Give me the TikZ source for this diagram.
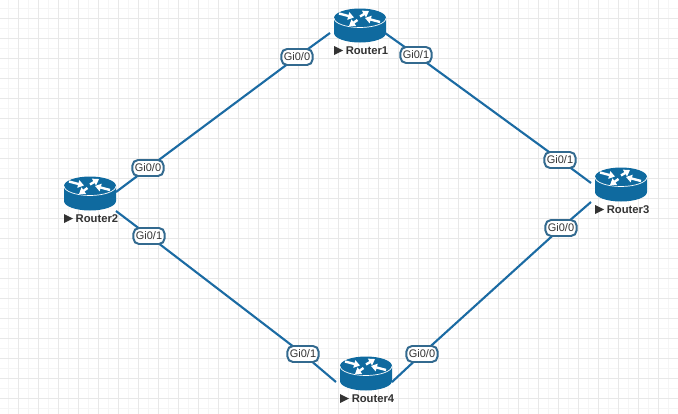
\documentclass[tikz,border=0pt]{standalone}
\usepackage{fontspec}
\setmainfont{Liberation Sans}
\usepackage{xcolor}
\usetikzlibrary{arrows.meta, positioning}
\definecolor{routerblue}{HTML}{0F6A9F}
\definecolor{linkblue}{HTML}{1B6BA3}
\definecolor{portedge}{HTML}{336A8F}
\definecolor{labeltext}{HTML}{333333}

\begin{document}
\begin{tikzpicture}[
    x=0.025cm, y=-0.025cm,
    router/.style={inner sep=0pt, minimum width=1.3cm, minimum height=0.85cm},
    routername/.style={font=\fontsize{8}{9}\selectfont\bfseries, text=labeltext, inner sep=0pt},
    port/.style={draw=portedge, line width=1.4pt, fill=white, rounded corners=4pt, minimum width=0.78cm, minimum height=0.4cm, inner sep=0pt, font=\fontsize{7.8}{9}\selectfont, text=labeltext},
    link/.style={draw=linkblue, line width=1.5pt},
    turn/.style={-{Triangle[length=4.2pt, width=5.4pt]}, white, line width=1.7pt},
    pics/routericon/.style={code={
        \fill[routerblue] (-26,-7) arc[start angle=180, end angle=360, x radius=26, y radius=9.5] -- (26,8) arc[start angle=0, end angle=-180, x radius=26, y radius=-9.5] -- cycle;
        \draw[white, line width=0.5pt] (-26,-7) arc[start angle=180, end angle=0, x radius=26, y radius=9.5];
        \draw[turn] (-21,-11.5) -- (-6,-7.5);
        \draw[turn] (20,-3) -- (5,-7);
        \draw[turn] (0,-8.5) -- (9,-14);
        \draw[turn] (-2.5,-5) -- (-11,1);
        \fill[labeltext] (-26,21) -- (-17,25.5) -- (-26,30) -- cycle;
    }}
]

    \useasboundingbox (0,0) rectangle (678,414);

    % Canvas grid, lighter lines between the heavier ones.
    \fill[white] (0,0) rectangle (678,414);
    \foreach \gridx in {8,28,...,668} \draw[black!4, line width=0.5pt] (\gridx,0) -- (\gridx,414);
    \foreach \gridy in {8,28,...,408} \draw[black!4, line width=0.5pt] (0,\gridy) -- (678,\gridy);
    \foreach \gridx in {18,38,...,678} \draw[black!9, line width=0.5pt] (\gridx,0) -- (\gridx,414);
    \foreach \gridy in {18,38,...,398} \draw[black!9, line width=0.5pt] (0,\gridy) -- (678,\gridy);

    % Routers and their names.
    \node[router] (router1) at (360,25) {};
    \node[router] (router2) at (90,193) {};
    \node[router] (router3) at (621,184) {};
    \node[router] (router4) at (366,373) {};
    \foreach \rname in {router1,router2,router3,router4} \pic at (\rname.center) {routericon};
    \node[routername] (name1) at (367,51) {Router1};
    \node[routername] (name2) at (97,219) {Router2};
    \node[routername] (name3) at (628,210) {Router3};
    \node[routername] (name4) at (373,399) {Router4};

    % Links first, interface labels sit on top of them.
    \coordinate (r1leftpos) at (297,57);
    \coordinate (r1rightpos) at (416,55);
    \coordinate (r2uppos) at (148,168);
    \coordinate (r2downpos) at (149,236);
    \coordinate (r3uppos) at (560,160);
    \coordinate (r3downpos) at (561,228);
    \coordinate (r4leftpos) at (303,354);
    \coordinate (r4rightpos) at (422,354);

    \draw[link] ([shift={(26,-1)}]router2.center) -- (r2uppos) -- (r1leftpos) -- ([shift={(-30,8)}]router1.center);
    \draw[link] ([shift={(25,8)}]router1.center) -- (r1rightpos) -- (r3uppos) -- ([shift={(-30,-1)}]router3.center);
    \draw[link] ([shift={(-30,18)}]router3.center) -- (r3downpos) -- (r4rightpos) -- ([shift={(26,9)}]router4.center);
    \draw[link] ([shift={(-30,9)}]router4.center) -- (r4leftpos) -- (r2downpos) -- ([shift={(26,18)}]router2.center);

    \node[port] (r1left) at (r1leftpos) {Gi0/0};
    \node[port] (r1right) at (r1rightpos) {Gi0/1};
    \node[port] (r2up) at (r2uppos) {Gi0/0};
    \node[port] (r2down) at (r2downpos) {Gi0/1};
    \node[port] (r3up) at (r3uppos) {Gi0/1};
    \node[port] (r3down) at (r3downpos) {Gi0/0};
    \node[port] (r4left) at (r4leftpos) {Gi0/1};
    \node[port] (r4right) at (r4rightpos) {Gi0/0};

\end{tikzpicture}
\end{document}
